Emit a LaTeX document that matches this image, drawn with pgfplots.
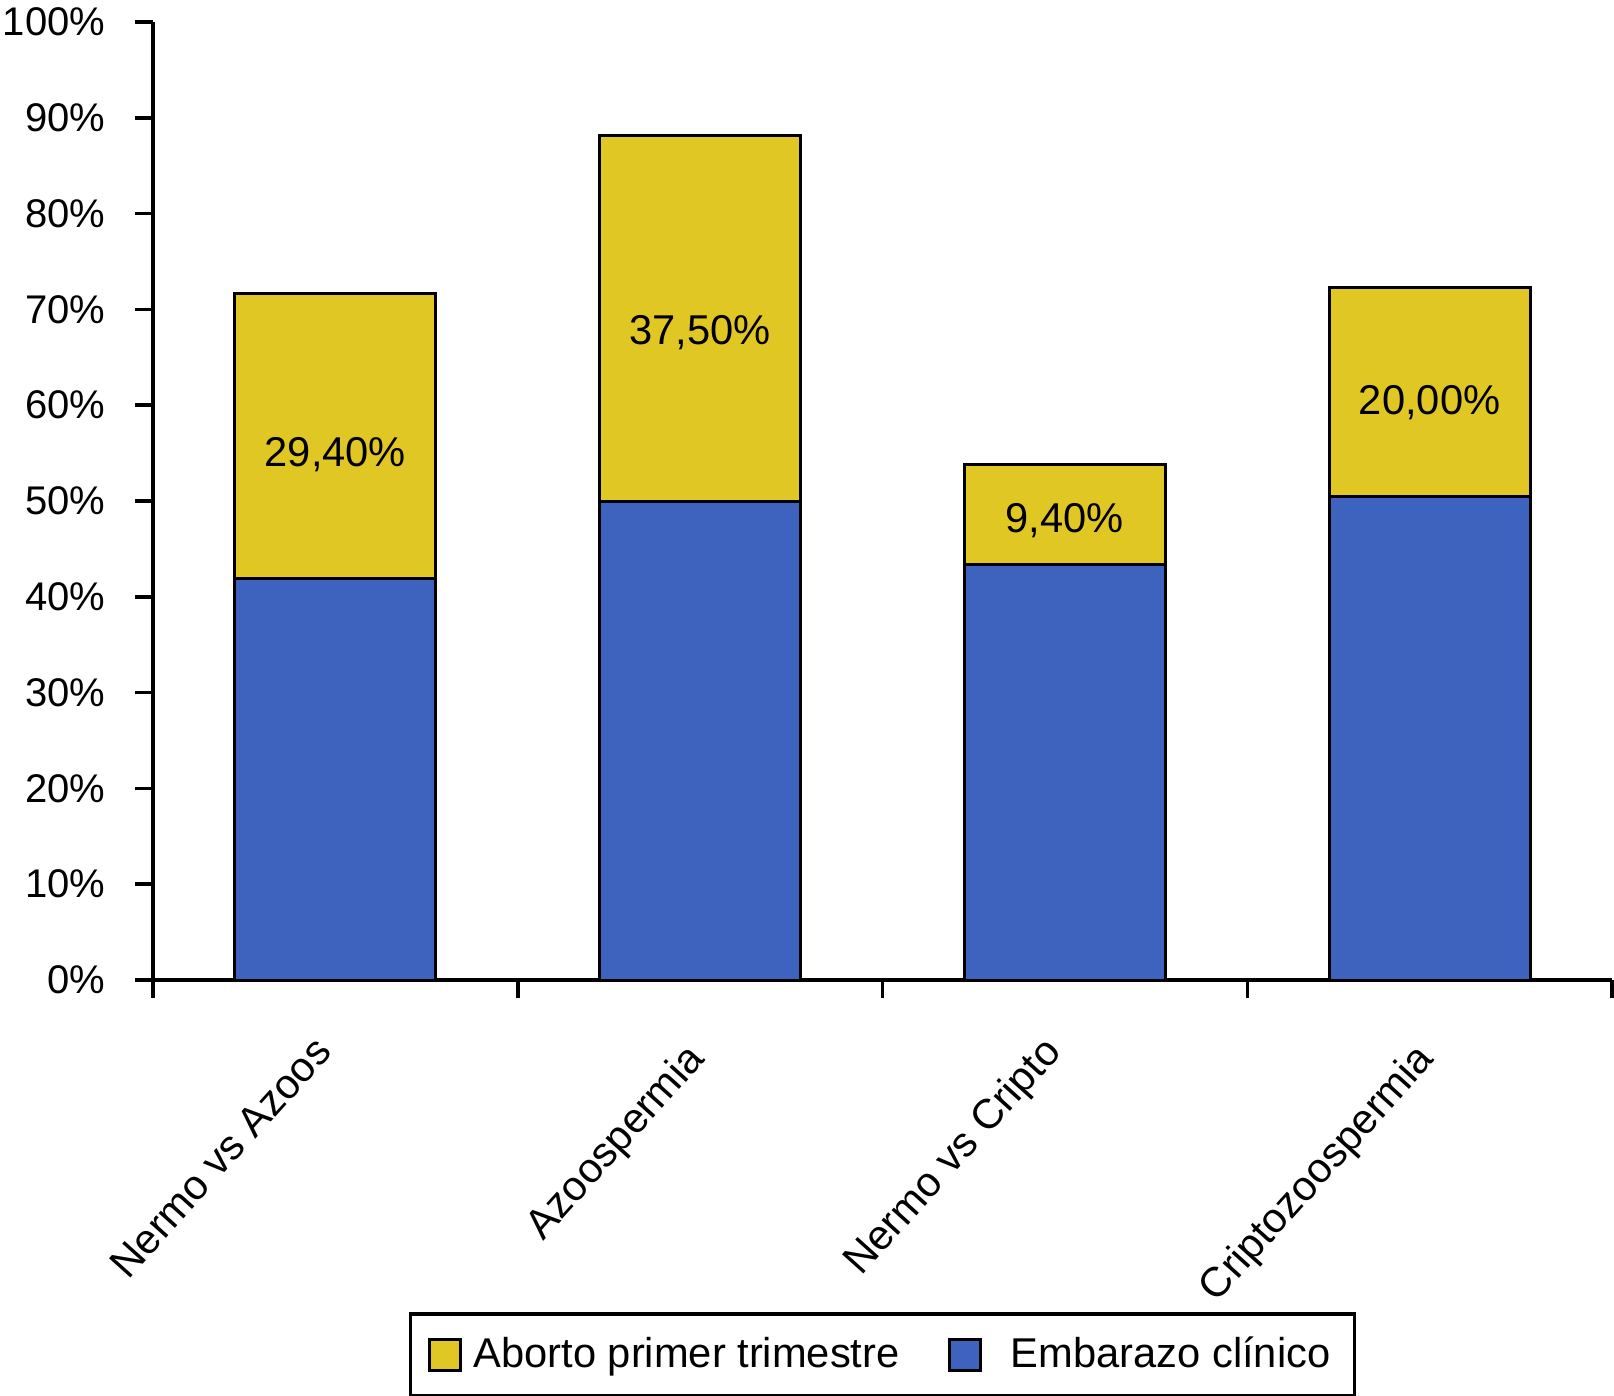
\documentclass[border=0pt]{standalone}
\usepackage{pgfplots}
\pgfplotsset{compat=1.18}
\usepackage{fontspec}
\setmainfont{Liberation Sans}

\definecolor{amarillo}{RGB}{225,199,35}
\definecolor{azul}{RGB}{61,99,191}

\pgfplotsset{
  caja/.style={legend image code/.code={
      \draw[##1] (0bp,-4.65bp) rectangle (9.3bp,4.65bp);}},
  marco/.style={scale only axis, width=437.7bp, height=287.4bp,
      xmin=-0.5, xmax=3.5, ymin=0, ymax=100},
}
\newcommand{\fuente}{\fontsize{12.5bp}{15bp}\selectfont}
% labels that end a little further left and lower in the original
\newcommand{\izq}[1]{\smash{#1}\rule{0pt}{5.8bp}\hspace{9.7bp}}

% values printed inside the yellow segments (baseline height in %)
\pgfplotstableread{
x y lab
0 53.6 29,40\%
1 66.3 37,50\%
2 46.7 9,40\%
3 59.0 20,00\%
}\etiquetas

\begin{document}
\begin{tikzpicture}
\begin{axis}[
    name=ax,
    marco,
    ybar stacked,
    bar width=60.3bp,
    axis lines*=left,
    axis line style={line width=1.05bp},
    tick align=outside,
    major tick length=5.4bp,
    tick style={line width=1.05bp, black},
    ytick={0,10,...,100},
    yticklabel={\pgfmathprintnumber[assume math mode=true]{\tick}\%},
    yticklabel style={font=\fontsize{12bp}{14bp}\selectfont, xshift=-5.4bp},
    xtick={-0.5,0.5,...,3.5},
    xticklabels={},
    extra x ticks={0,1,2,3},
    extra x tick labels={\izq{Nermo vs Azoos}, Azoospermia, \izq{Nermo vs Cripto}, Criptozoospermia},
    extra x tick style={major tick length=0pt,
      xticklabel style={rotate=48, anchor=north east, inner sep=0pt,
        xshift=-16.6bp, yshift=-8.2bp, font=\fuente}},
    legend style={at={(0.5,0)}, anchor=north, yshift=-99.6bp,
      draw=black, line width=1.05bp, font=\fuente,
      inner xsep=5.2bp, inner ysep=5bp,
      /tikz/every even column/.append style={column sep=12.4bp}},
    legend columns=2,
    reverse legend,
]

\addplot[fill=azul, draw=black, line width=0.9bp, caja]
  coordinates {(0,41.9) (1,50.0) (2,43.4) (3,50.45)};
\addlegendentry{\hspace{6.8bp}Embarazo clínico}

\addplot[fill=amarillo, draw=black, line width=0.9bp, caja]
  coordinates {(0,29.8) (1,38.2) (2,10.4) (3,21.85)};
\addlegendentry{\hspace{1.5bp}Aborto primer trimestre}
\end{axis}

\begin{axis}[marco, hide axis]
\addplot[draw=none, mark=none, nodes near coords, point meta=explicit symbolic,
  every node near coord/.append style={anchor=base, inner sep=0pt, font=\fuente}]
  table[x=x, y=y, meta=lab] {\etiquetas};
\end{axis}

\pgfresetboundingbox
\path[use as bounding box] ([shift={(-45.9bp,-124.8bp)}]ax.south west)
  rectangle ([shift={(438.3bp,294bp)}]ax.south west);
\end{tikzpicture}
\end{document}
